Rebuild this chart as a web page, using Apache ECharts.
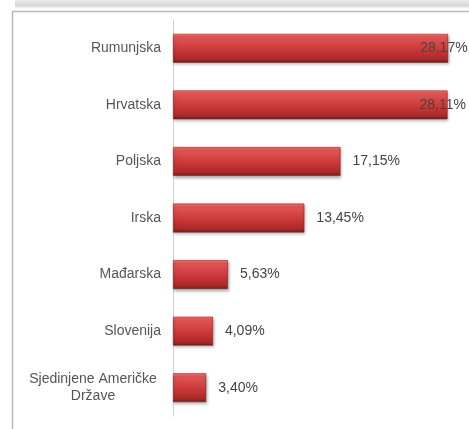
<!DOCTYPE html>
<html>
<head>
<meta charset="utf-8">
<script src="https://cdn.jsdelivr.net/npm/echarts@6/dist/echarts.min.js"></script>
<style>
  html, body { margin: 0; padding: 0; background: #fff; }
  #chart { width: 469px; height: 429px; }
</style>
</head>
<body>
<div id="chart"></div>
<script>
  // kategorije (odozgo prema dolje)
  const countries = ['Rumunjska', 'Hrvatska', 'Poljska', 'Irska', 'Mađarska', 'Slovenija', 'Sjedinjene Američke\nDržave'];
  const shares = [28.17, 28.11, 17.15, 13.45, 5.63, 4.09, 3.40];

  const barColor = {
    type: 'linear', x: 0, y: 0, x2: 0, y2: 1,
    colorStops: [
      {offset: 0, color: '#f07a7a'},
      {offset: 0.12, color: '#e05555'},
      {offset: 0.55, color: '#cc3838'},
      {offset: 0.88, color: '#ad2828'},
      {offset: 1, color: '#7a1818'}
    ]
  };

  const myChart = echarts.init(document.getElementById('chart'));

  const option = {
    animation: false,
    textStyle: {fontFamily: 'Liberation Sans, Arial, sans-serif'},
    graphic: [
      {
        type: 'rect',
        shape: {x: 15, y: 0, width: 454, height: 9},
        style: {
          fill: {
            type: 'linear', x: 0, y: 0, x2: 0, y2: 1,
            colorStops: [
              {offset: 0, color: '#ededed'},
              {offset: 0.6, color: '#d6d6d6'},
              {offset: 1, color: '#ffffff'}
            ]
          }
        },
        silent: true
      },
      {
        type: 'polyline',
        shape: {points: [[12.5, 429], [12.5, 11.5], [469, 11.5]]},
        style: {stroke: '#b8b8b8', lineWidth: 1.5, fill: null},
        silent: true
      }
    ],
    grid: {left: 173, right: 3, top: 20, bottom: 13},
    xAxis: {
      type: 'value',
      min: 0,
      max: 30,
      show: false
    },
    yAxis: {
      type: 'category',
      inverse: true,
      data: countries,
      axisLine: {lineStyle: {color: '#d0d0d0', width: 1}},
      axisTick: {length: 3, lineStyle: {color: '#d0d0d0'}},
      axisLabel: {
        margin: 12,
        fontSize: 14,
        color: '#555555',
        formatter: function (v) {
          return v.indexOf('\n') >= 0 ? '{c|' + v + '}' : v;
        },
        rich: {
          c: {width: 136, align: 'center', lineHeight: 17, fontSize: 14, color: '#555555'}
        }
      }
    },
    series: [
      {
        type: 'bar',
        barCategoryGap: '49%',
        data: shares.map(function (v, i) {
          const item = {value: v};
          if (i < 2) {
            item.label = {position: 'right', distance: 0, offset: [-28, 0]};
          }
          return item;
        }),
        itemStyle: {
          color: barColor,
          borderColor: '#8c2020',
          borderWidth: 0.6,
          shadowColor: 'rgba(0,0,0,0.3)',
          shadowBlur: 3,
          shadowOffsetY: 2,
          shadowOffsetX: 1
        },
        label: {
          show: true,
          position: 'right',
          distance: 12,
          fontSize: 14,
          color: '#444444',
          formatter: function (p) {
            return p.value.toFixed(2).replace('.', ',') + '%';
          }
        }
      }
    ]
  };

  myChart.setOption(option);
</script>
</body>
</html>
